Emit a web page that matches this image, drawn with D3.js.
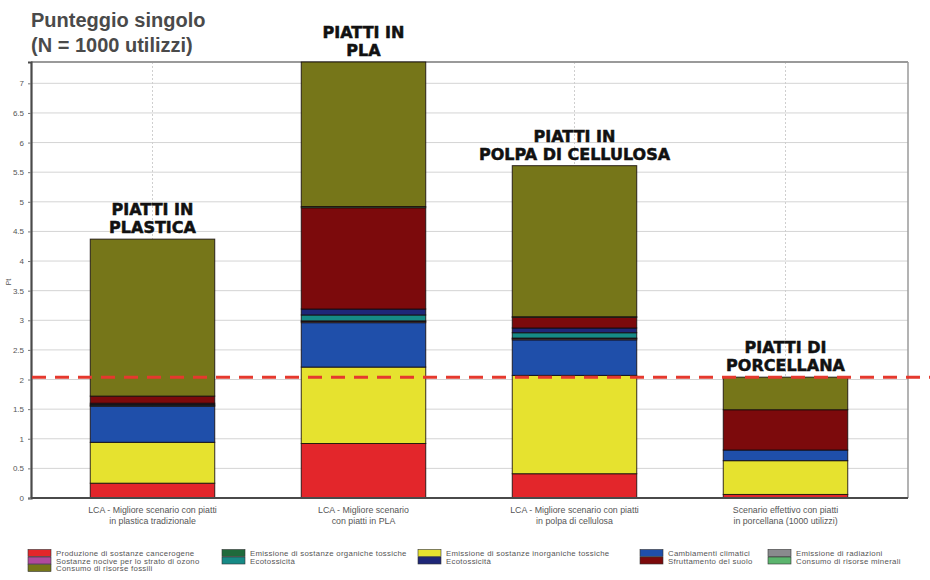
<!DOCTYPE html>
<html>
<head>
<meta charset="utf-8">
<script src="https://cdn.jsdelivr.net/npm/d3@7"></script>
<style>
  html, body { margin: 0; padding: 0; background: #fff; }
  svg { display: block; }
</style>
</head>
<body>
<svg id="chart" width="930" height="580"></svg>
<script>
// Scenari confrontati (asse x)
const scenarioLines = [
  ["LCA - Migliore scenario con piatti", "in plastica tradizionale"],
  ["LCA - Migliore scenario", "con piatti in PLA"],
  ["LCA - Migliore scenario con piatti", "in polpa di cellulosa"],
  ["Scenario effettivo con piatti", "in porcellana (1000 utilizzi)"]
];
const barTitles = [
  ["PIATTI IN", "PLASTICA"],
  ["PIATTI IN", "PLA"],
  ["PIATTI IN", "POLPA DI CELLULOSA"],
  ["PIATTI DI", "PORCELLANA"]
];

// Punteggio singolo (Pt) per categoria di impatto, uno per scenario
const cancerogene      = [0.25, 0.92, 0.41, 0.06];
const organicheTossiche = [0.00, 0.00, 0.00, 0.00];
const inorganicheTossiche = [0.69, 1.29, 1.66, 0.57];
const cambiamentiClimatici = [0.61, 0.75, 0.60, 0.18];
const radiazioni       = [0.01, 0.02, 0.02, 0.00];
const ozono            = [0.00, 0.01, 0.01, 0.00];
const ecotossicita     = [0.02, 0.10, 0.09, 0.00];
const acidificazione   = [0.02, 0.10, 0.08, 0.00];
const suolo            = [0.12, 1.71, 0.18, 0.68];
const risorseMinerali  = [0.00, 0.02, 0.01, 0.00];
const risorseFossili   = [2.65, 2.44, 2.55, 0.55];

// Soglia tratteggiata
const threshold = 2.04;

// Tick dell'asse y
const yTicks = [0, 0.5, 1, 1.5, 2, 2.5, 3, 3.5, 4, 4.5, 5, 5.5, 6, 6.5, 7];
const yMax = 7.36;

// Categorie, in ordine di impilamento e di legenda
const categories = [
  { key: "cancerogene", label: "Produzione di sostanze cancerogene", color: "#e3262b", values: cancerogene },
  { key: "organiche", label: "Emissione di sostanze organiche tossiche", color: "#1f6a3c", values: organicheTossiche },
  { key: "inorganiche", label: "Emissione di sostanze inorganiche tossiche", color: "#e6e22f", values: inorganicheTossiche },
  { key: "clima", label: "Cambiamenti climatici", color: "#1f4faa", values: cambiamentiClimatici },
  { key: "radiazioni", label: "Emissione di radiazioni", color: "#8a8a8e", values: radiazioni },
  { key: "ozono", label: "Sostanze nocive per lo strato di ozono", color: "#b04a9e", values: ozono },
  { key: "ecotox", label: "Ecotossicità", color: "#168a86", values: ecotossicita },
  { key: "acid", label: "Ecotossicità", color: "#1e2778", values: acidificazione },
  { key: "suolo", label: "Sfruttamento del suolo", color: "#7c0a0c", values: suolo },
  { key: "minerali", label: "Consumo di risorse minerali", color: "#5cb56e", values: risorseMinerali },
  { key: "fossili", label: "Consumo di risorse fossili", color: "#767619", values: risorseFossili }
];

const svg = d3.select("#chart");
const plot = { left: 31, right: 908, top: 62, bottom: 498 };

const table = scenarioLines.map((s, i) => {
  const row = { idx: i };
  categories.forEach(c => { row[c.key] = c.values[i]; });
  return row;
});

const x = d3.scaleBand()
  .domain(d3.range(scenarioLines.length))
  .range([47, 891])
  .paddingInner(0.41)
  .paddingOuter(0.205);

const y = d3.scaleLinear().domain([0, yMax]).range([plot.bottom, plot.top]);

// Griglia orizzontale
svg.append("g")
  .selectAll("line")
  .data(yTicks.filter(t => t > 0))
  .join("line")
  .attr("x1", plot.left).attr("x2", plot.right)
  .attr("y1", d => y(d)).attr("y2", d => y(d))
  .attr("stroke", "#d4d4d4").attr("stroke-width", 1);

// Griglia verticale tratteggiata al centro di ogni scenario
svg.append("g")
  .selectAll("line")
  .data(d3.range(scenarioLines.length))
  .join("line")
  .attr("x1", d => x(d) + x.bandwidth() / 2).attr("x2", d => x(d) + x.bandwidth() / 2)
  .attr("y1", plot.top).attr("y2", plot.bottom)
  .attr("stroke", "#cfcfcf").attr("stroke-width", 1).attr("stroke-dasharray", "2,2");

// Cornice
svg.append("line").attr("x1", plot.left).attr("x2", plot.right)
  .attr("y1", plot.top).attr("y2", plot.top).attr("stroke", "#9a9a9a").attr("stroke-width", 2);
svg.append("line").attr("x1", plot.right).attr("x2", plot.right)
  .attr("y1", plot.top).attr("y2", plot.bottom).attr("stroke", "#9a9a9a").attr("stroke-width", 1.5);

// Barre impilate
const stacked = d3.stack().keys(categories.map(c => c.key))(table);
const colorOf = new Map(categories.map(c => [c.key, c.color]));

svg.append("g")
  .selectAll("g")
  .data(stacked)
  .join("g")
  .attr("fill", d => colorOf.get(d.key))
  .selectAll("rect")
  .data(d => d.filter(p => p[1] - p[0] > 0))
  .join("rect")
  .attr("x", d => x(d.data.idx))
  .attr("width", x.bandwidth())
  .attr("y", d => y(d[1]))
  .attr("height", d => y(d[0]) - y(d[1]))
  .attr("stroke", "rgba(20,10,10,0.85)")
  .attr("stroke-width", 1);

// Assi
const yAxis = d3.axisLeft(y).tickValues(yTicks).tickSize(3).tickPadding(4)
  .tickFormat(d => String(d));
const gy = svg.append("g").attr("transform", `translate(${plot.left},0)`).call(yAxis);
gy.select(".domain").attr("stroke", "#4a4a4a").attr("stroke-width", 2.2);
gy.selectAll(".tick line").attr("stroke", "#777");
gy.selectAll(".tick text").attr("font-family", "Liberation Sans, Arial, sans-serif")
  .attr("font-size", 8).attr("fill", "#555");

const xAxis = d3.axisBottom(x).tickSize(0).tickFormat("");
const gx = svg.append("g").attr("transform", `translate(0,${plot.bottom})`).call(xAxis);
gx.select(".domain").attr("d", `M${plot.left},0H${plot.right}`)
  .attr("stroke", "#4a4a4a").attr("stroke-width", 2.2);

// Etichette scenari
const xl = svg.append("g")
  .selectAll("text")
  .data(scenarioLines)
  .join("text")
  .attr("text-anchor", "middle")
  .attr("font-family", "Liberation Sans, Arial, sans-serif")
  .attr("font-size", 8.8)
  .attr("fill", "#555");
xl.each(function(lines, i) {
  d3.select(this).selectAll("tspan").data(lines).join("tspan")
    .attr("x", x(i) + x.bandwidth() / 2)
    .attr("y", (d, j) => 513 + j * 11)
    .text(d => d);
});

// Titoli sopra le barre
const totals = table.map(r => categories.reduce((s, c) => s + r[c.key], 0));
svg.append("g")
  .selectAll("text")
  .data(barTitles)
  .join("text")
  .attr("text-anchor", "middle")
  .attr("font-family", "DejaVu Sans, sans-serif")
  .attr("font-weight", "bold")
  .attr("font-size", 16)
  .attr("fill", "#111")
  .attr("stroke", "#111")
  .attr("stroke-width", 0.5)
  .each(function(lines, i) {
    const base = y(totals[i]) - 6;
    d3.select(this).selectAll("tspan").data(lines).join("tspan")
      .attr("x", x(i) + x.bandwidth() / 2)
      .attr("y", (d, j) => base - (lines.length - 1 - j) * 18)
      .text(d => d);
  });

// Linea di soglia
svg.append("line")
  .attr("x1", plot.left + 1).attr("x2", 930)
  .attr("y1", y(threshold)).attr("y2", y(threshold))
  .attr("stroke", "#e5392e").attr("stroke-width", 3)
  .attr("stroke-dasharray", "14,9");

// Titolo
const title = svg.append("text")
  .attr("font-family", "Liberation Sans, Arial, sans-serif")
  .attr("font-weight", "bold").attr("font-size", 20).attr("fill", "#4a4a4a");
title.append("tspan").attr("x", 31).attr("y", 27).text("Punteggio singolo");
title.append("tspan").attr("x", 31).attr("y", 52).text("(N = 1000 utilizzi)");

// Unità asse y
svg.append("text")
  .attr("transform", "translate(11,282) rotate(-90)")
  .attr("text-anchor", "middle")
  .attr("font-family", "Liberation Sans, Arial, sans-serif")
  .attr("font-size", 7).attr("fill", "#555")
  .text("Pt");

// Legenda: 5 colonne, compilata per righe
const legendCols = [28, 222, 418, 640, 768];
const legendRows = [553, 560.5, 568];
const lg = svg.append("g")
  .selectAll("g")
  .data(categories.map((c, i) => ({ ...c, col: i % 5, row: Math.floor(i / 5) })))
  .join("g")
  .attr("transform", d => `translate(${legendCols[d.col]},${legendRows[d.row]})`);
lg.append("rect")
  .attr("x", 0).attr("y", -3.5).attr("width", 23).attr("height", 7)
  .attr("fill", d => d.color).attr("stroke", "#333").attr("stroke-width", 0.6);
lg.append("text")
  .attr("x", 28).attr("y", 3)
  .attr("font-family", "Liberation Sans, Arial, sans-serif")
  .attr("font-size", 7.8).attr("letter-spacing", 0.3).attr("fill", "#555")
  .text(d => d.label);
</script>
</body>
</html>
